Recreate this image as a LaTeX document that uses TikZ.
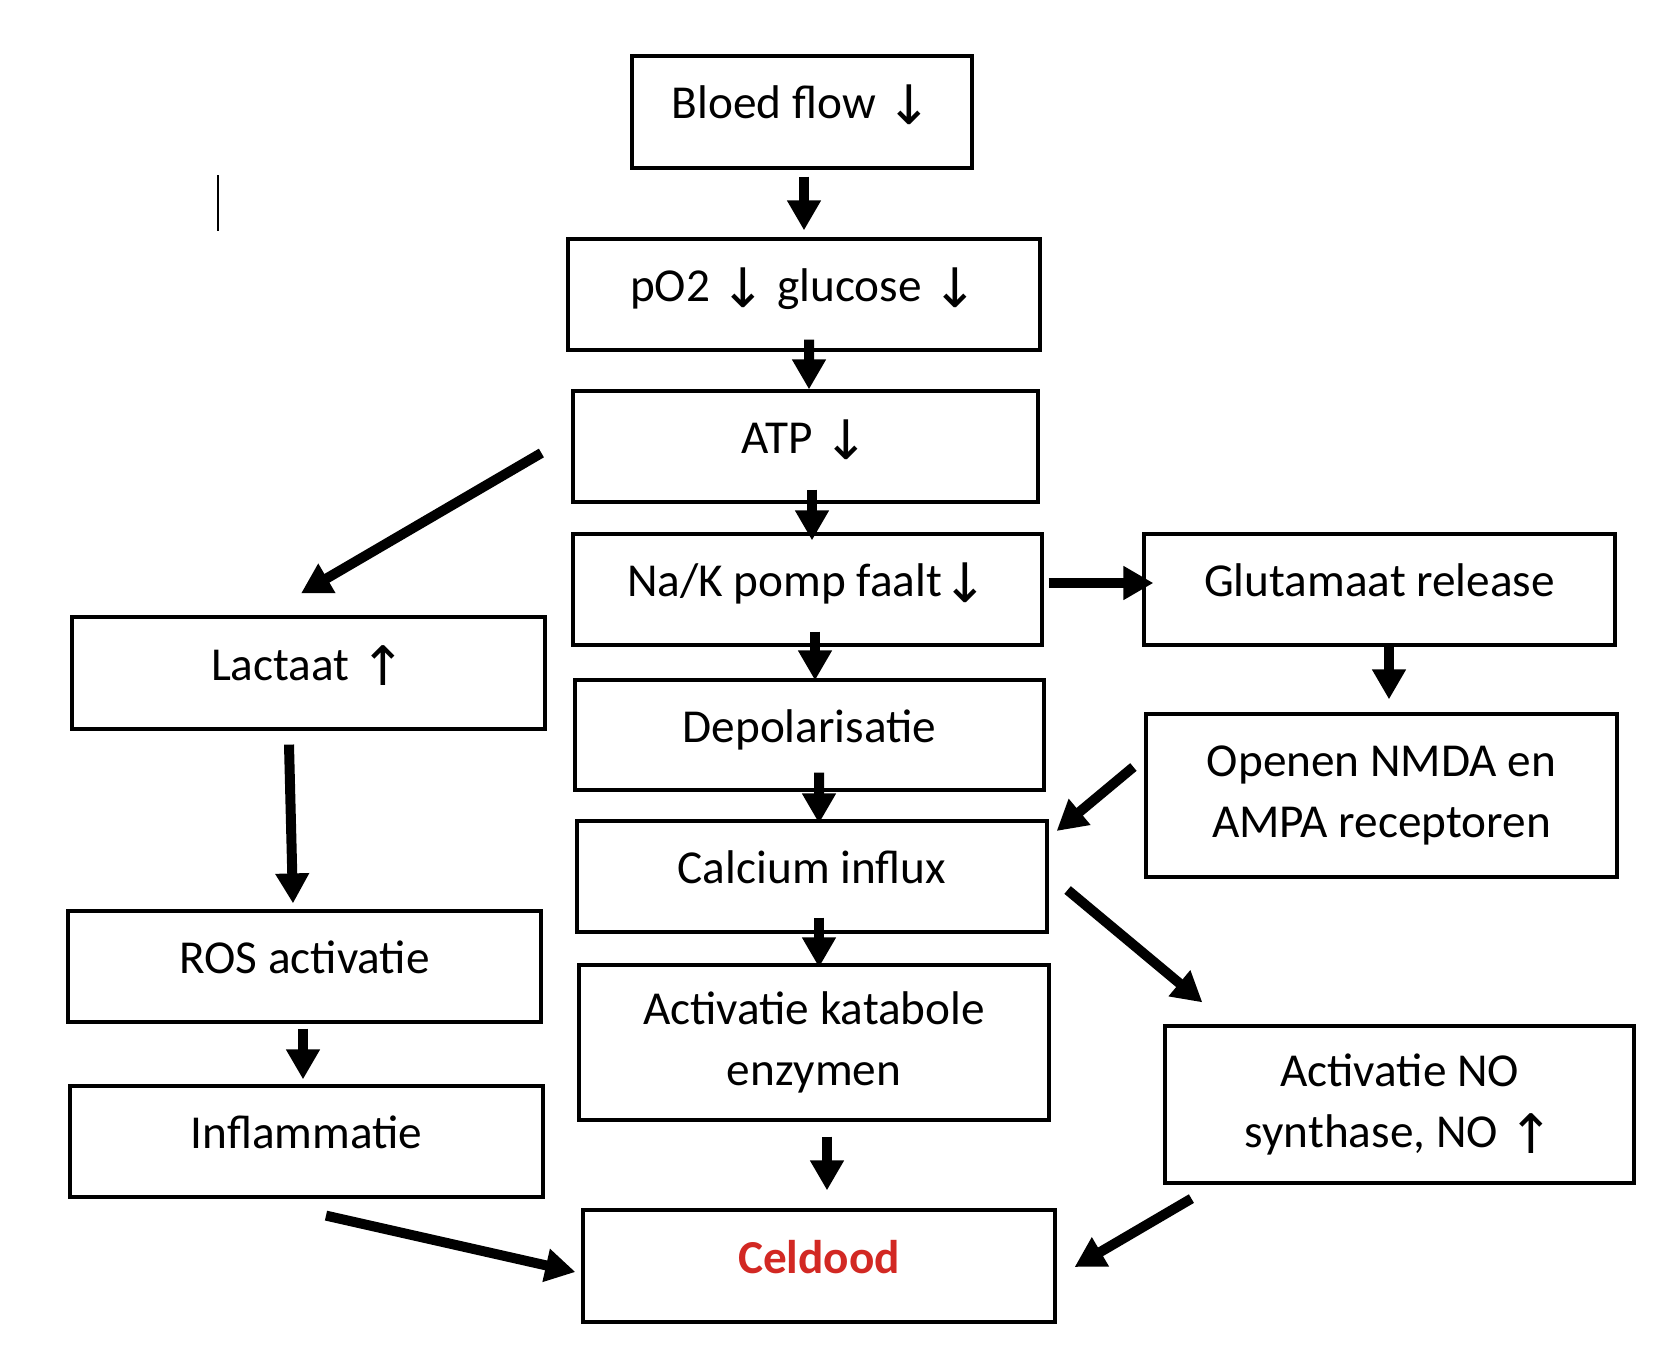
\documentclass[tikz,border=0pt]{standalone}
\usepackage{fontspec}
\setmainfont{Carlito}
\newfontfamily\arrowfont{DejaVu Sans}
\usepackage{tikz}
\usetikzlibrary{arrows.meta}
\definecolor{CeldoodRed}{RGB}{210,40,35}
\newlength\pxunit
\setlength\pxunit{0.02cm}
\newcommand\dn{\raisebox{-0.12em}{\arrowfont\fontsize{31pt}{35pt}\selectfont\char"2193}}
\newcommand\up{\raisebox{-0.12em}{\arrowfont\fontsize{31pt}{35pt}\selectfont\char"2191}}

\begin{document}
\begin{tikzpicture}[x=1\pxunit,y=-1\pxunit,font=\fontsize{26.9pt}{35pt}\selectfont,
box/.style n args={2}{draw,line width=3.2\pxunit,minimum width=#1\pxunit,minimum height=#2\pxunit,inner sep=0pt,align=center},
oneline/.style={text height=0.5cm,text depth=0.22cm},
arr/.style={line width=0.2cm,-{Triangle[length=0.6cm,width=0.64cm]}}]
\useasboundingbox (0,0) rectangle (1666,1372);
% middle column
\node[box={340}{112},oneline](bloed) at(802,112) {Bloed flow \dn};
\node[box={472}{111},oneline](po2) at(804,294.5) {pO2 \dn{} glucose \dn};
\node[box={465}{111},oneline](atp) at(805.5,446.5) {ATP \dn};
\node[box={469}{111},oneline](napomp) at(807.5,589.5) {Na/K pomp faalt\dn};
\node[box={469}{110},oneline](depol) at(809.5,735) {Depolarisatie};
\node[box={470}{111},oneline](calcium) at(812,876.5) {Calcium influx};
\node[box={470}{155}](katabool) at(814,1042.5) {Activatie katabole\\enzymen};
\node[box={472}{112},oneline,text=CeldoodRed,font=\fontsize{26.9pt}{35pt}\selectfont\bfseries](celdood) at(819,1266) {Celdood};
% right column
\node[box={471}{111},oneline](glut) at(1379.5,589.5) {Glutamaat release};
\node[box={471}{163}](nmda) at(1381.5,795.5) {Openen NMDA en\\AMPA receptoren};
\node[box={469}{157}](nosynth) at(1399.5,1104.5) {Activatie NO\\synthase, NO \up};
% left column
\node[box={473}{112},oneline](lactaat) at(308.5,673) {Lactaat \up};
\node[box={473}{111},oneline](ros) at(304.5,966.5) {ROS activatie};
\node[box={473}{111},oneline](infl) at(306.5,1141.5) {Inflammatie};
\draw[line width=2\pxunit] (218,175) -- (218,231);
\foreach \a/\ax/\ay/\b/\bx/\by in %
{bloed.south/2/7/po2.north/0/-7,
 po2.south/5/-12/atp.north/3.5/0,
 atp.south/6.5/-14/napomp.north/4.5/8,
 napomp.south/7.5/-15/depol.north/5.5/2,
 depol.south/9.5/-19/calcium.north/7/4,
 calcium.south/7/-16/katabool.north/5/4,
 katabool.south/13/15/celdood.north/8/-18,
 napomp.east/5/-6.5/glut.west/11/-6.5,
 glut.south/9.5/0/nmda.north/7.5/-13,
 nmda.west/-11/-28.5/calcium.east/8/-45.5,
 calcium.east/19/13.5/nosynth.north west/39/-22,
 nosynth.south west/28/14/celdood.east/18/1,
 atp.west/-30/6.5/lactaat.north/-7.5/-22,
 lactaat.south/-19.5/14/ros.north/-11.5/-6,
 ros.south/-1.5/5/infl.north/-3.5/-5,
 infl.south/19.5/17/celdood.west/-6/6} {
   \draw[arr] ([shift={(\ax,\ay)}]\a) -- ([shift={(\bx,\by)}]\b);
}
\end{tikzpicture}
\end{document}
